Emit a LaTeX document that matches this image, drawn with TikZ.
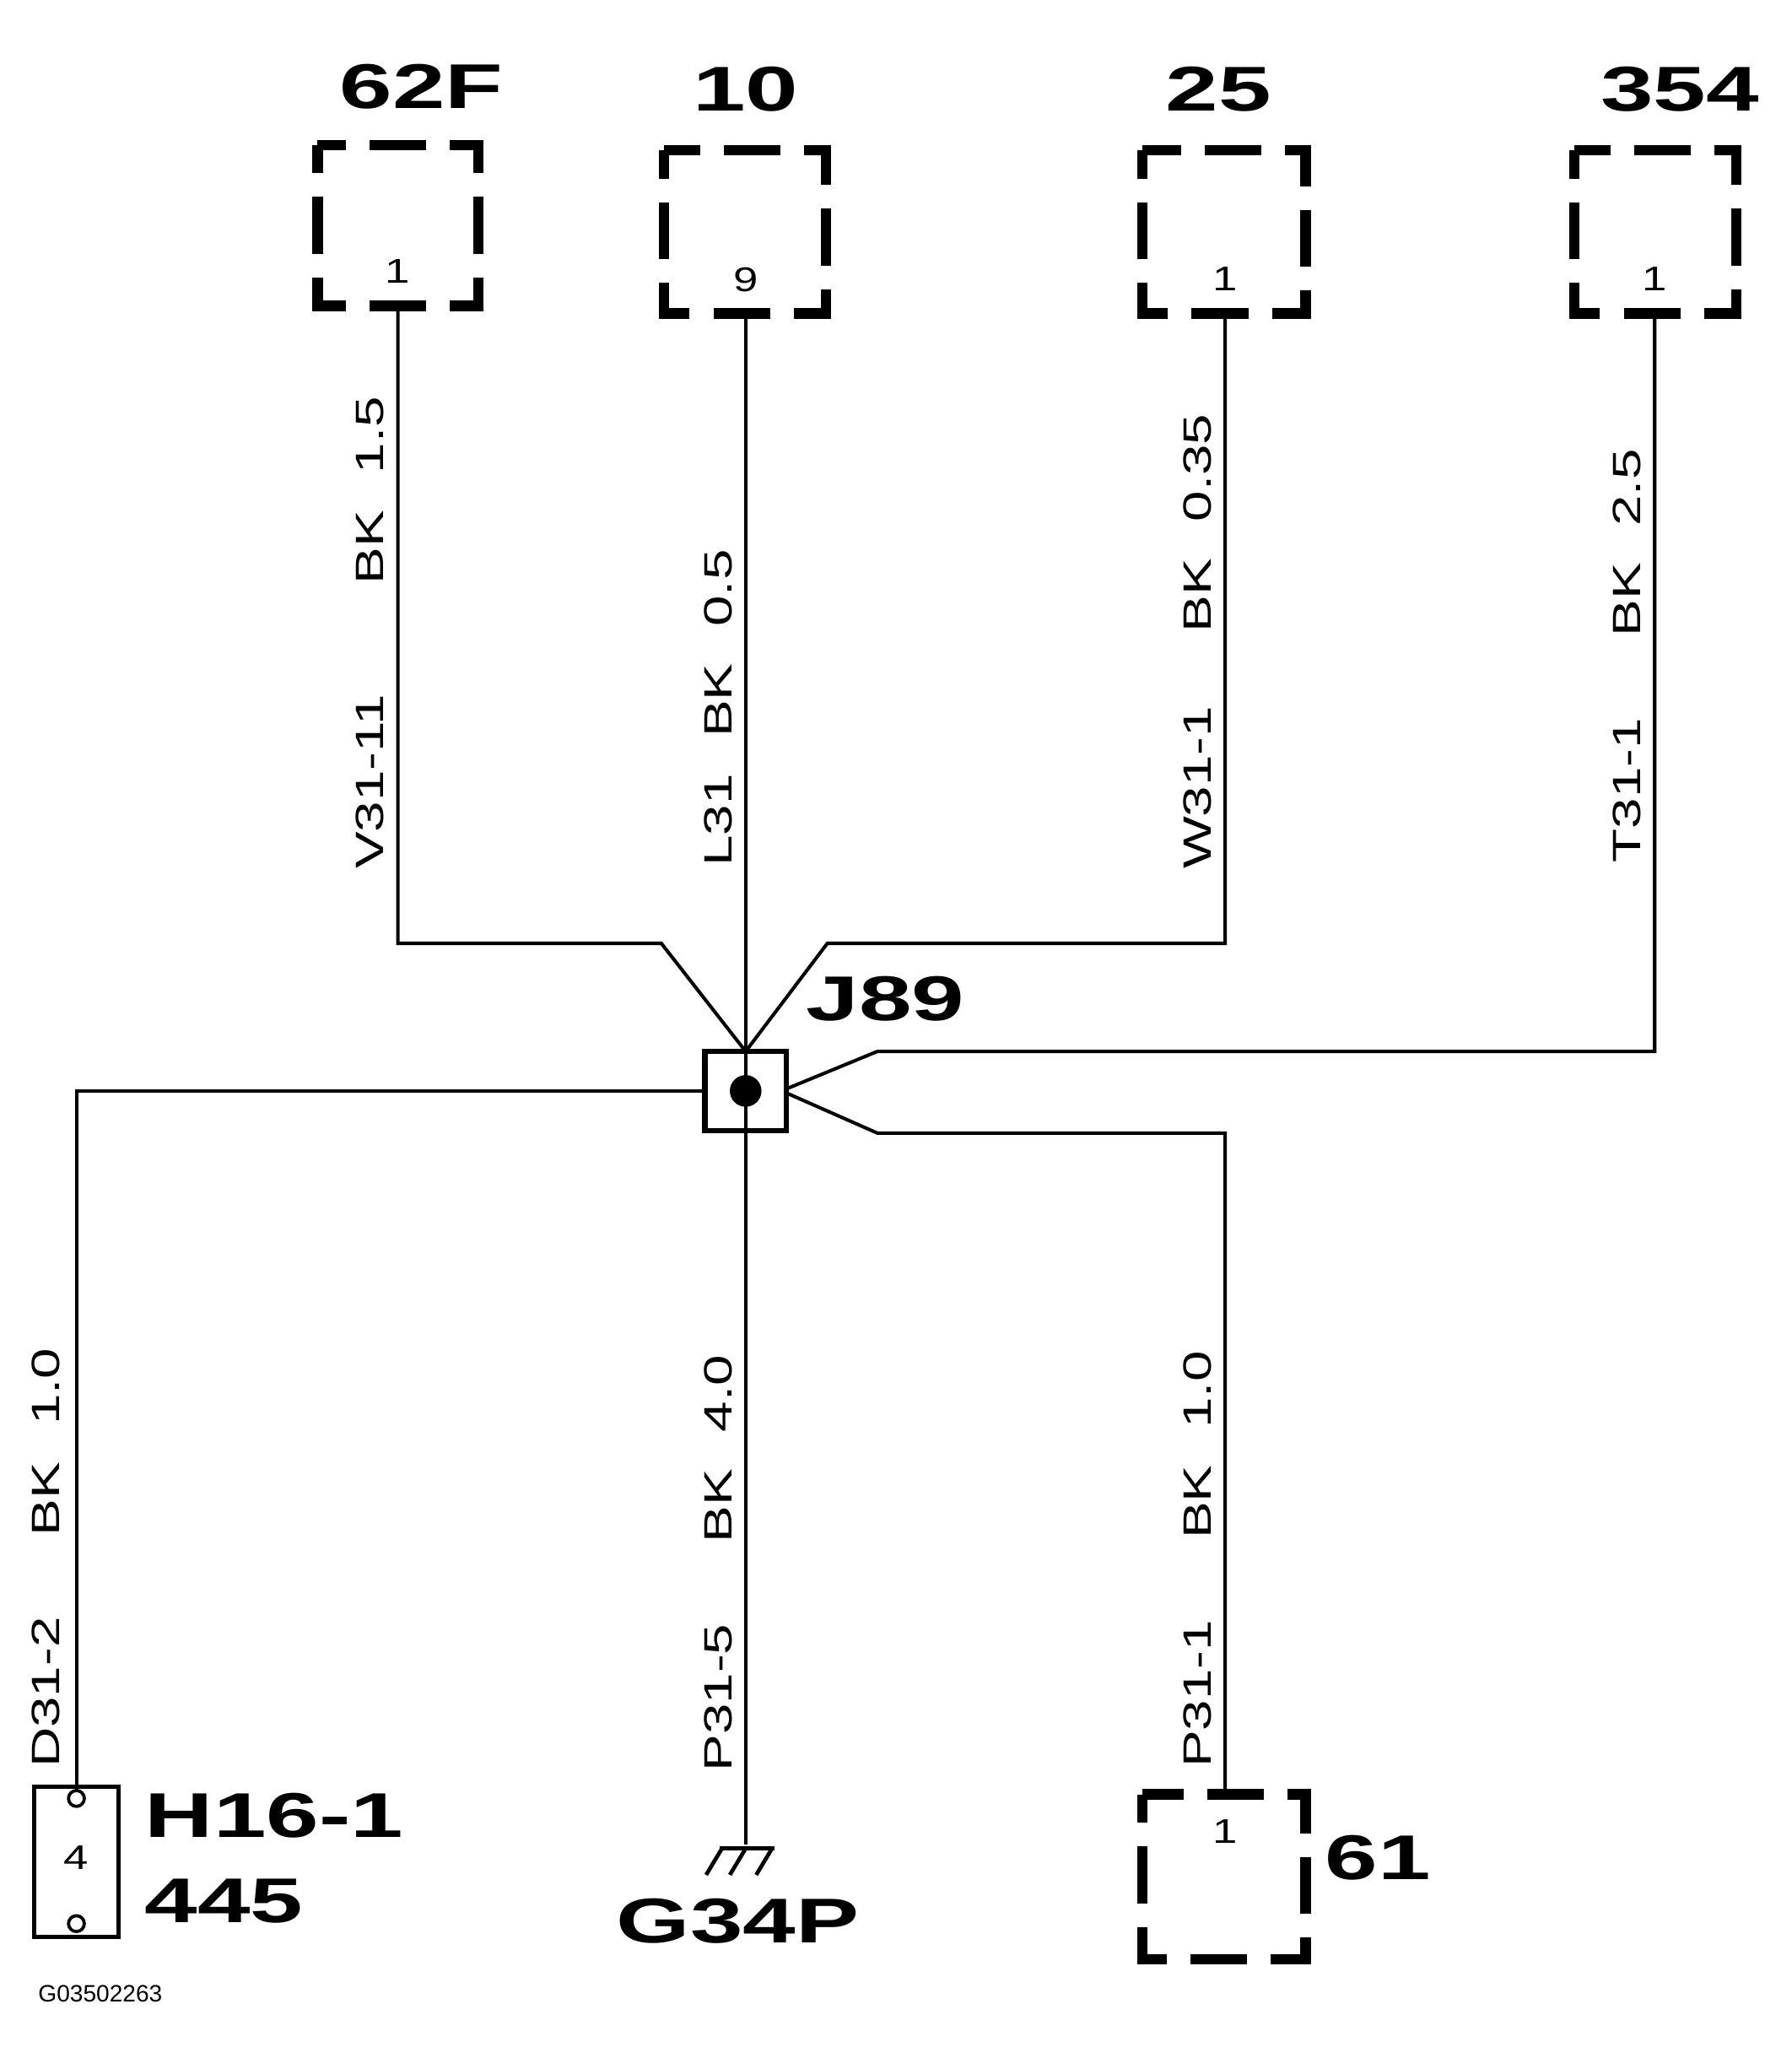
\documentclass[tikz,border=0pt]{standalone}
\usepackage{fontspec}
\setmainfont{Liberation Sans}
\begin{document}
\begin{tikzpicture}[x=0.5pt,y=-0.5pt,
  wire/.style={line width=1.3pt},
  dbox/.style={draw,line width=4pt,dash pattern=on 21.5pt off 9pt,dash phase=10.75pt},
  big/.style={font=\fontsize{24}{24}\selectfont\bfseries},
  wl/.style={rotate=90,anchor=south west,inner sep=0pt,font=\fontsize{15}{15}\selectfont},
  pin/.style={font=\fontsize{13}{13}\selectfont,inner sep=0pt}]
\useasboundingbox (0,0) rectangle (1360,1562);
% connector boxes
\draw[dbox] (241,110) rectangle (363,232);
\draw[dbox] (504,114) rectangle (627,238);
\draw[dbox] (867,114) rectangle (991,238);
\draw[dbox] (1195,114) rectangle (1318,238);
\draw[dbox] (867,1362) rectangle (991,1487);
\node[big] (l62) at (320,66) {\scalebox{1.5}[1]{62F}};
\node[big] (l10) at (566,68) {\scalebox{1.5}[1]{10}};
\node[big] (l25) at (925,68) {\scalebox{1.5}[1]{25}};
\node[big] (l354) at (1275,68) {\scalebox{1.5}[1]{354}};
\node[big] (l61) at (1046,1410) {\scalebox{1.5}[1]{61}};
\node[pin] (p1) at (302,206) {\scalebox{1.3}[1]{1}};
\node[pin] (p2) at (566,212) {\scalebox{1.3}[1]{9}};
\node[pin] (p3) at (930,212) {\scalebox{1.3}[1]{1}};
\node[pin] (p4) at (1256,212) {\scalebox{1.3}[1]{1}};
\node[pin] (p5) at (930,1390) {\scalebox{1.3}[1]{1}};
\coordinate (a1) at (302,232);
\coordinate (a2) at (566,238);
\coordinate (a3) at (930,238);
\coordinate (a4) at (1256,238);
\coordinate (a5) at (930,1362);
% splice
\node[draw,line width=2pt,minimum width=31pt,minimum height=30pt,inner sep=0pt] (J) at (566,828) {};
\fill (566,828) circle (6pt);
\node[big,anchor=west] (lj) at (605,758) {\scalebox{1.5}[1]{J89}};
\coordinate (jt) at (566,798);
\coordinate (jr) at (598,826);
\coordinate (jr2) at (598,830);
% wires
\draw[wire] (a1) -- (302,716) -- (502,716) -- (jt);
\draw[wire] (a3) -- (930,716) -- (628,716) -- (jt);
\draw[wire] (a4) -- (1256,798) -- (666,798) -- (jr);
\draw[wire] (jr2) -- (666,860) -- (930,860) -- (a5);
\draw[wire] (a2) -- (566,1400);
% H16
\node[draw,line width=1.5pt,minimum width=32pt,minimum height=57pt,inner sep=0pt] (H) at (58,1413) {};
\draw[line width=1.2pt] (58,1365) circle (3pt) (58,1460) circle (3pt);
\node[pin] (h4) at (58,1410) {\scalebox{1.3}[1]{4}};
\draw[wire] (J.west) -- (58,828) -- (58,1359);
\node[big,anchor=west] (lh) at (103,1378) {\scalebox{1.5}[1]{H16-1}};
\node[big,anchor=west] (l445) at (103,1443) {\scalebox{1.5}[1]{445}};
% ground
\coordinate (g) at (566,1400);
\draw[line width=1.5pt] (546,1403) -- (588,1403);
\foreach \x in {548,566,586} \draw[line width=1.5pt] (\x,1403) -- (\x-12,1423);
\node[big] (lg) at (560,1458) {\scalebox{1.5}[1]{G34P}};
\node[font=\fontsize{9}{9}\selectfont,anchor=west] (code) at (22,1513) {G03502263};
% wire labels
\node[wl] at (292,660) {\scalebox{1.4}[1]{V31-11\hspace{30pt}BK\hspace{10pt}1.5}};
\node[wl] at (556,658) {\scalebox{1.4}[1]{L31\hspace{10pt}BK\hspace{10pt}0.5}};
\node[wl] at (920,660) {\scalebox{1.4}[1]{W31-1\hspace{20pt}BK\hspace{10pt}0.35}};
\node[wl] at (1246,655) {\scalebox{1.4}[1]{T31-1\hspace{22pt}BK\hspace{10pt}2.5}};
\node[wl] at (46,1342) {\scalebox{1.4}[1]{D31-2\hspace{22pt}BK\hspace{10pt}1.0}};
\node[wl] at (556,1345) {\scalebox{1.4}[1]{P31-5\hspace{22pt}BK\hspace{10pt}4.0}};
\node[wl] at (920,1342) {\scalebox{1.4}[1]{P31-1\hspace{22pt}BK\hspace{10pt}1.0}};
\end{tikzpicture}
\end{document}
